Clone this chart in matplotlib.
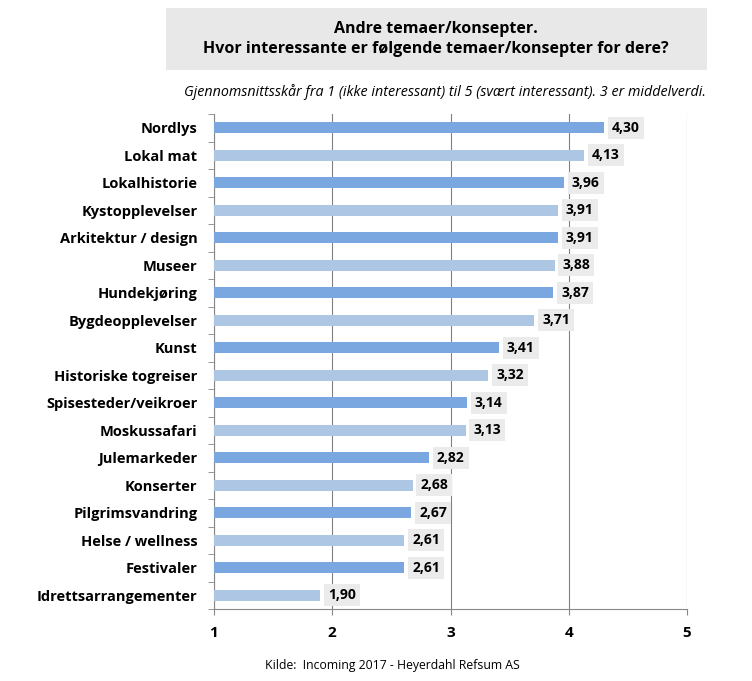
import matplotlib
matplotlib.use("Agg")
import matplotlib.pyplot as plt
from matplotlib.patches import Rectangle

categories = ["Nordlys", "Lokal mat", "Lokalhistorie", "Kystopplevelser", "Arkitektur / design",
              "Museer", "Hundekjøring", "Bygdeopplevelser", "Kunst", "Historiske togreiser",
              "Spisesteder/veikroer", "Moskussafari", "Julemarkeder", "Konserter",
              "Pilgrimsvandring", "Helse / wellness", "Festivaler", "Idrettsarrangementer"]
values = [4.30, 4.13, 3.96, 3.91, 3.91, 3.88, 3.87, 3.71, 3.41, 3.32, 3.14, 3.13,
          2.82, 2.68, 2.67, 2.61, 2.61, 1.90]
xticks = [1, 2, 3, 4, 5]

title = "Andre temaer/konsepter.\nHvor interessante er følgende temaer/konsepter for dere?"
subtitle = "Gjennomsnittsskår fra 1 (ikke interessant) til 5 (svært interessant). 3 er middelverdi."
source = "Kilde:  Incoming 2017 - Heyerdahl Refsum AS"

plt.rcParams['font.family'] = ['Open Sans', 'DejaVu Sans']

fig = plt.figure(figsize=(7.52, 6.81), dpi=100)
ax = fig.add_axes([214/752, 1-609/681, (687-214)/752, (609-114)/681])

dark = "#7BA7E0"
light = "#ADC6E4"
n = len(categories)
ypos = list(range(n))
colors = [dark if i % 2 == 0 else light for i in range(n)]
ax.barh(ypos, [v - 1 for v in values], left=1, height=0.4, color=colors, zorder=3)

for y, v in zip(ypos, values):
    ax.text(v + 0.065, y, f"{v:.2f}".replace(".", ","), va="center", ha="left",
            fontsize=10, fontweight="bold",
            bbox=dict(boxstyle="square,pad=0.3", facecolor="#EBEBEB", edgecolor="none"),
            zorder=4)

ax.set_xlim(1, 5)
ax.set_ylim(n - 0.5, -0.5)
ax.set_xticks(xticks)
ax.set_xticklabels([str(t) for t in xticks], fontsize=11, fontweight="bold")
ax.set_yticks(ypos)
ax.set_yticklabels(categories, fontsize=10.5, fontweight="bold")
ax.tick_params(axis="y", length=4, pad=12, color="#888888")
ax.tick_params(axis="x", length=4, pad=8, color="#888888")
ax.set_yticks([i - 0.5 for i in range(n + 1)], minor=True)
ax.tick_params(axis="y", which="minor", length=4, color="#888888")
ax.tick_params(axis="y", which="major", length=0)
ax.grid(axis="x", color="#808080", linewidth=0.8, zorder=0)
for s in ["top", "right"]:
    ax.spines[s].set_visible(False)
for s in ["left", "bottom"]:
    ax.spines[s].set_color("#888888")

# title box
fig.patches.append(Rectangle((166/752, 1-70/681), (707-166)/752, 62/681,
                             transform=fig.transFigure, facecolor="#E8E8E8",
                             edgecolor="none", zorder=0))
fig.text(436/752, 1-39/681, title, ha="center", va="center", fontsize=11.5,
         fontweight="bold", linespacing=1.4)
fig.text(706/752, 1-92/681, subtitle, ha="right", va="center", fontsize=10.3,
         style="italic")
fig.text(392/752, 1-665/681, source, ha="center", va="center", fontsize=8.8)

fig.savefig("out.png", dpi=100)
